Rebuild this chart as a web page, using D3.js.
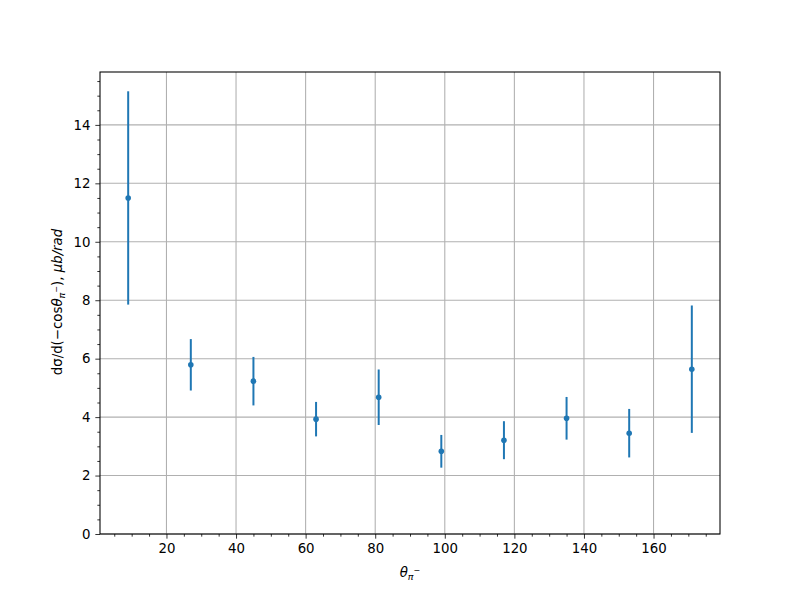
<!DOCTYPE html>
<html>
<head>
<meta charset="utf-8">
<script src="https://cdn.jsdelivr.net/npm/d3@7"></script>
<style>
body{margin:0;background:#fff;}
svg{display:block;font-family:"DejaVu Sans",sans-serif;}
</style>
</head>
<body>
<svg id="chart" width="800" height="600"></svg>
<script>
// Data
const angles = [9, 27, 45, 63, 81, 99, 117, 135, 153, 171];
const values = [11.50, 5.79, 5.23, 3.93, 4.68, 2.83, 3.21, 3.96, 3.45, 5.64];
const errors = [3.65, 0.88, 0.83, 0.59, 0.95, 0.56, 0.65, 0.73, 0.83, 2.18];
const xTicks = [20, 40, 60, 80, 100, 120, 140, 160];
const yTicks = [0, 2, 4, 6, 8, 10, 12, 14];

const svg = d3.select("#chart");
const L = 100, R = 720, T = 72, B = 534;
const color = "#1f77b4";

const x = d3.scaleLinear().domain([0.9, 179.1]).range([L, R]);
const y = d3.scaleLinear().domain([0, 15.81]).range([B, T]);

svg.append("rect").attr("width", 800).attr("height", 600).attr("fill", "#fff");

// grid
const g = svg.append("g");
g.selectAll(".gx").data(xTicks).enter().append("line")
  .attr("x1", d => x(d)).attr("x2", d => x(d)).attr("y1", T).attr("y2", B)
  .attr("stroke", "#b0b0b0").attr("stroke-width", 1.07);
g.selectAll(".gy").data(yTicks).enter().append("line")
  .attr("x1", L).attr("x2", R).attr("y1", d => y(d)).attr("y2", d => y(d))
  .attr("stroke", "#b0b0b0").attr("stroke-width", 1.07);

// error bars
svg.append("g").selectAll("line").data(angles).enter().append("line")
  .attr("x1", d => x(d)).attr("x2", d => x(d))
  .attr("y1", (d, i) => y(values[i] - errors[i]))
  .attr("y2", (d, i) => y(values[i] + errors[i]))
  .attr("stroke", color).attr("stroke-width", 2);
svg.append("g").selectAll("circle").data(angles).enter().append("circle")
  .attr("cx", d => x(d)).attr("cy", (d, i) => y(values[i]))
  .attr("r", 2.8).attr("fill", color);

// axes
const xMinor = d3.range(5, 180, 5).filter(v => v % 20 !== 0);
const yMinor = d3.range(0.5, 15.81, 0.5).filter(v => v % 2 !== 0);

const xAxis = d3.axisBottom(x).tickValues(xTicks).tickSize(4.67).tickPadding(4.9).tickFormat(d3.format("d"));
const yAxis = d3.axisLeft(y).tickValues(yTicks).tickSize(4.67).tickPadding(4.9).tickFormat(d3.format("d"));

const gx = svg.append("g").attr("transform", `translate(0,${B})`).call(xAxis);
const gxm = svg.append("g").attr("transform", `translate(0,${B})`)
  .call(d3.axisBottom(x).tickValues(xMinor).tickSize(2.67).tickFormat(""));
const gy = svg.append("g").attr("transform", `translate(${L},0)`).call(yAxis);
const gym = svg.append("g").attr("transform", `translate(${L},0)`)
  .call(d3.axisLeft(y).tickValues(yMinor).tickSize(2.67).tickFormat(""));

[gx, gxm, gy, gym].forEach(a => {
  a.select(".domain").remove();
  a.selectAll("line").attr("stroke", "#000").attr("stroke-width", 0.8);
  a.selectAll("text").attr("font-family", "DejaVu Sans").attr("font-size", "13.33px").attr("fill", "#000");
});

// frame
svg.append("rect").attr("x", L).attr("y", T).attr("width", R - L).attr("height", B - T)
  .attr("fill", "none").attr("stroke", "#000").attr("stroke-width", 1.07);

// x label
const xl = svg.append("text").attr("x", 410).attr("y", 577)
  .attr("text-anchor", "middle").attr("font-size", "13.33px").attr("fill", "#000");
xl.append("tspan").attr("font-style", "italic").text("θ");
xl.append("tspan").attr("font-style", "italic").attr("font-size", "9.5px").attr("dy", 3).text("π");
xl.append("tspan").attr("font-size", "8px").attr("dy", -7).text("−");

// y label
const yl = svg.append("text").attr("transform", "translate(62,302) rotate(-90)")
  .attr("text-anchor", "middle").attr("font-size", "13.33px").attr("fill", "#000");
yl.append("tspan").text("dσ/d(−cos");
yl.append("tspan").attr("font-style", "italic").text("θ");
yl.append("tspan").attr("font-style", "italic").attr("font-size", "9.5px").attr("dy", 3).text("π");
yl.append("tspan").attr("font-size", "8px").attr("dy", -6).text("−");
yl.append("tspan").attr("dy", 3).text("), ");
yl.append("tspan").attr("font-style", "italic").text("μb/rad");
</script>
</body>
</html>
